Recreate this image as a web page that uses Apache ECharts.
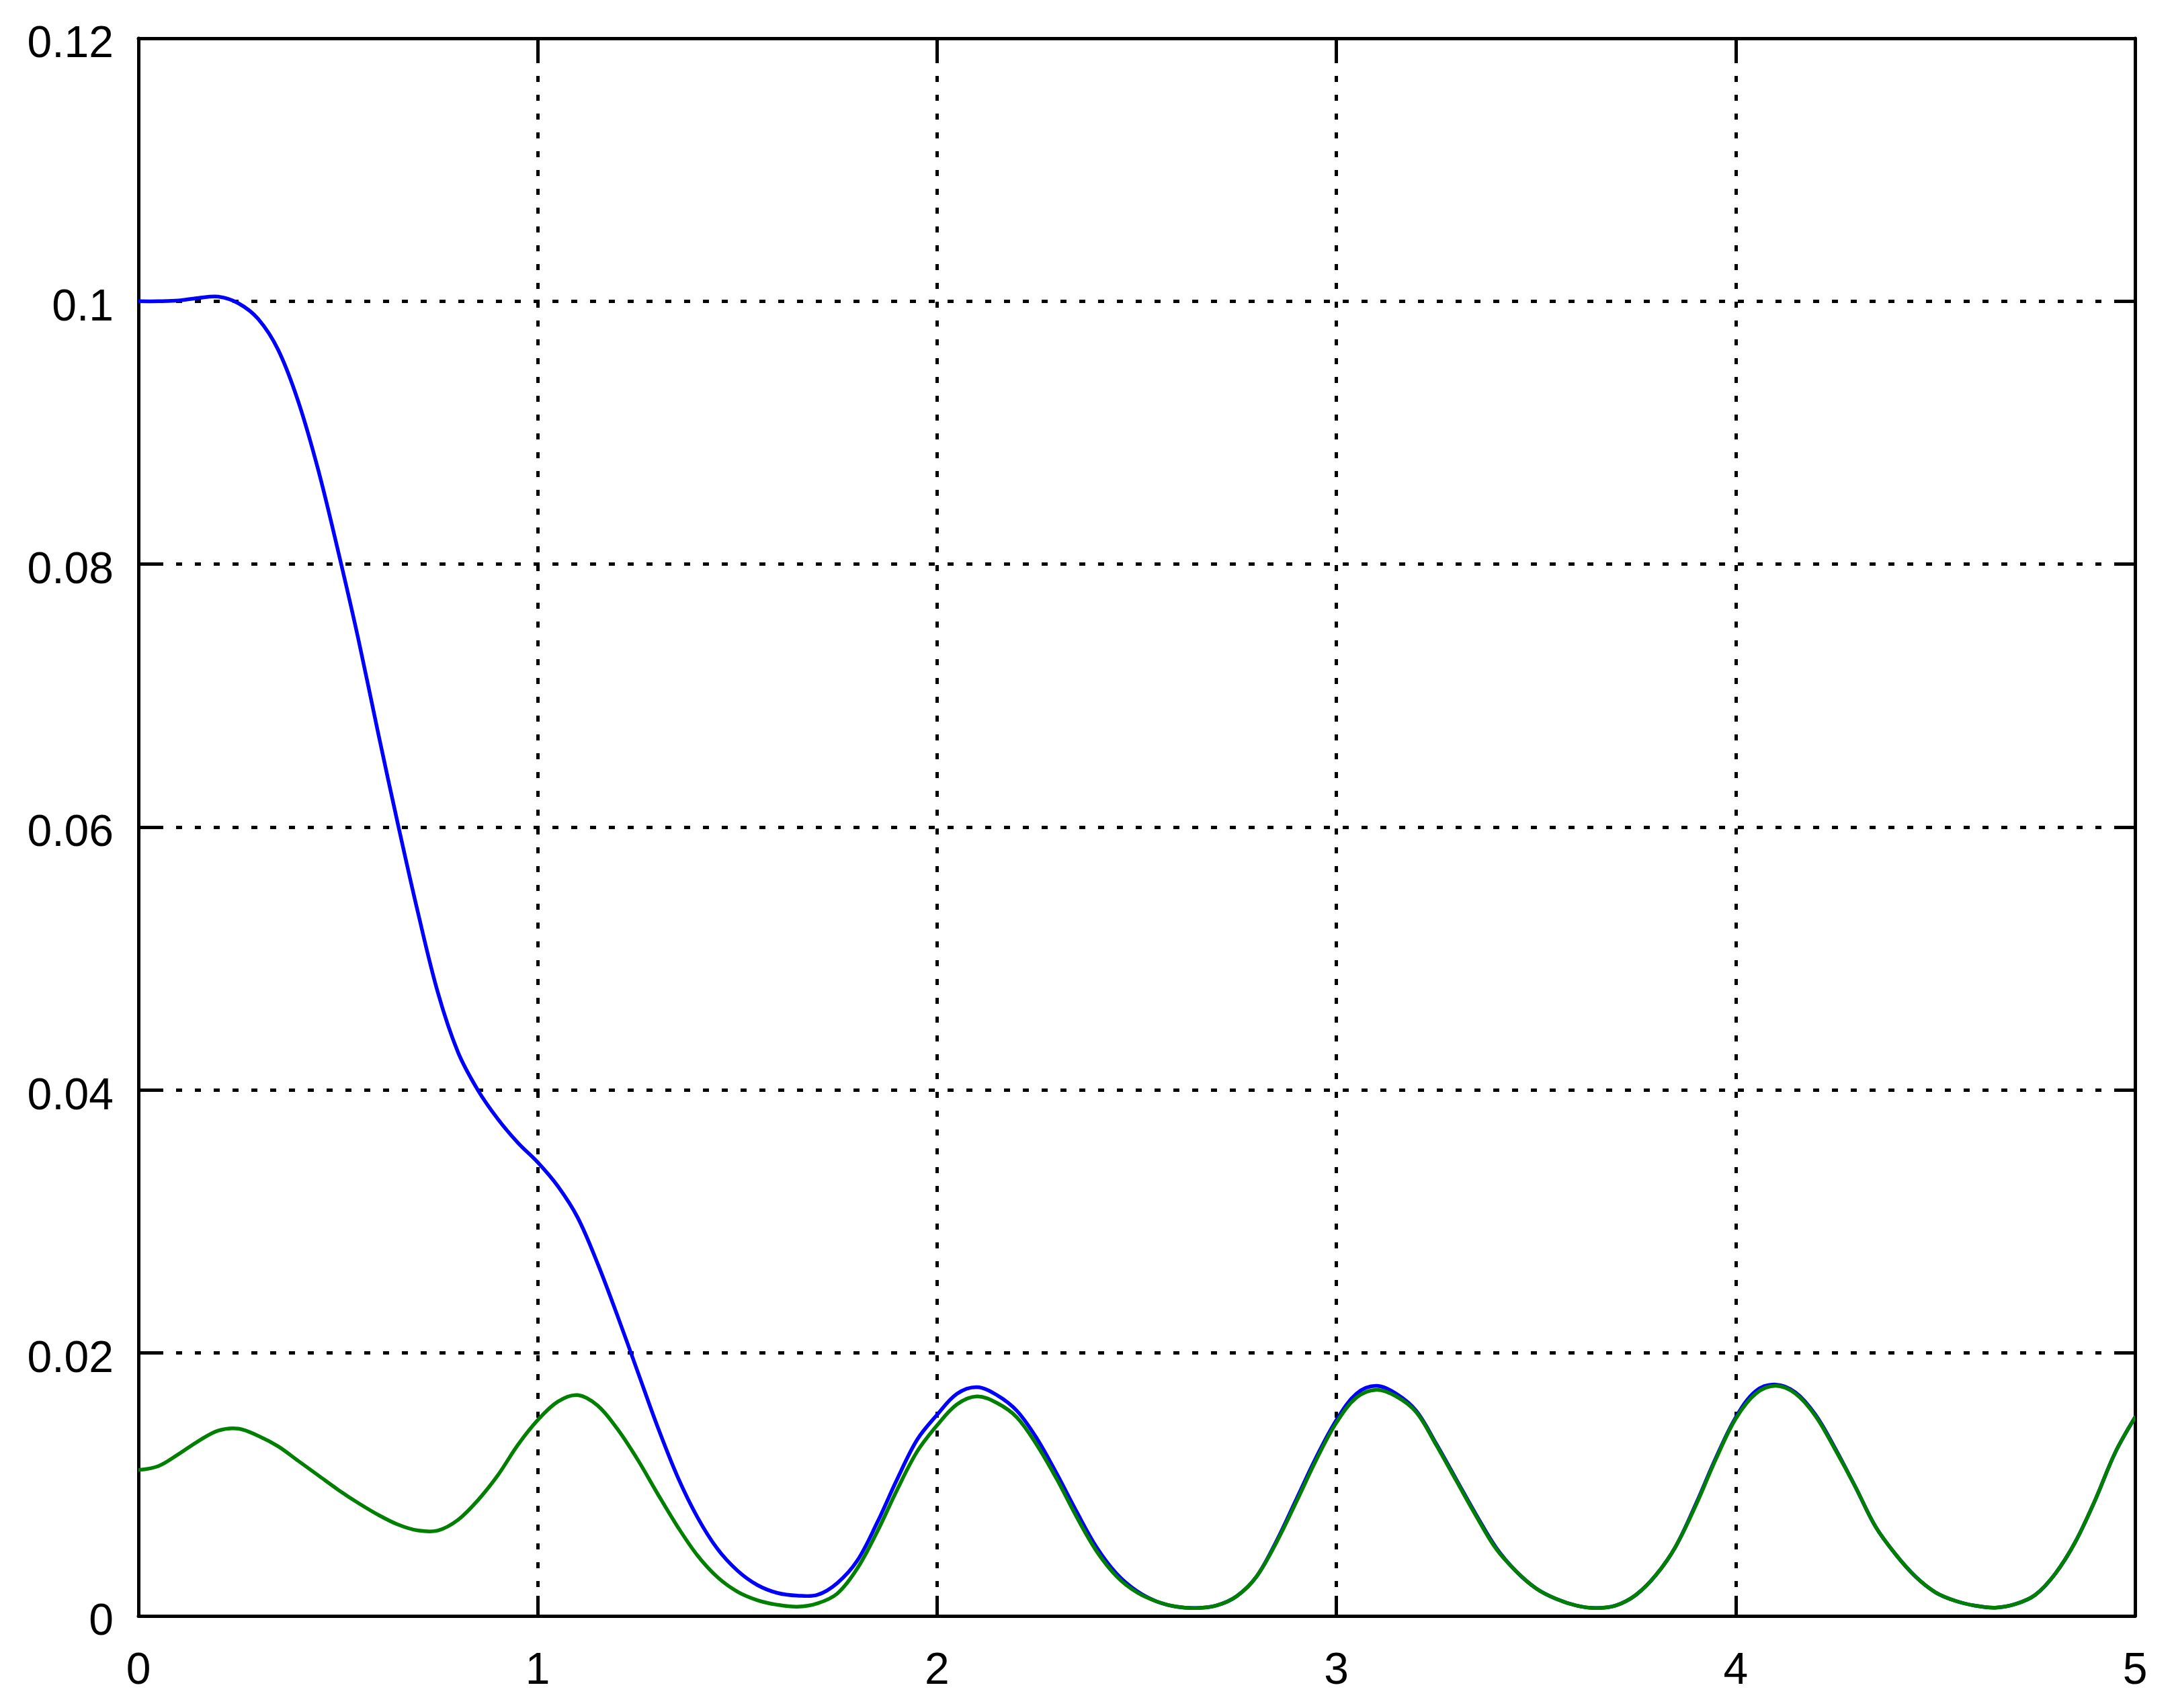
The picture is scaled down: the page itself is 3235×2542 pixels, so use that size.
<!DOCTYPE html>
<html>
<head>
<meta charset="utf-8">
<script src="https://cdn.jsdelivr.net/npm/echarts@6/dist/echarts.min.js"></script>
<style>
html,body{margin:0;padding:0;background:#fff;}
#chart{width:3235px;height:2542px;}
</style>
</head>
<body>
<div id="chart"></div>
<script>
const xValues = [
0.00,0.05,0.10,0.15,0.20,0.25,0.30,0.35,0.40,0.45,
0.50,0.55,0.60,0.65,0.70,0.75,0.80,0.85,0.90,0.95,
1.00,1.05,1.10,1.15,1.20,1.25,1.30,1.35,1.40,1.45,
1.50,1.55,1.60,1.65,1.70,1.75,1.80,1.85,1.90,1.95,
2.00,2.05,2.10,2.15,2.20,2.25,2.30,2.35,2.40,2.45,
2.50,2.55,2.60,2.65,2.70,2.75,2.80,2.85,2.90,2.95,
3.00,3.05,3.10,3.15,3.20,3.25,3.30,3.35,3.40,3.45,
3.50,3.55,3.60,3.65,3.70,3.75,3.80,3.85,3.90,3.95,
4.00,4.05,4.10,4.15,4.20,4.25,4.30,4.35,4.40,4.45,
4.50,4.55,4.60,4.65,4.70,4.75,4.80,4.85,4.90,4.95,
5.00];

const blueValues = [
0.1000,0.1000,0.10005,0.10025,0.10035,0.09985,0.09865,0.0963,0.0924,0.0872,
0.0810,0.0744,0.0672,0.0602,0.0535,0.0474,0.0429,0.0400,0.0378,0.0360,
0.0345,0.0327,0.0303,0.0268,0.0228,0.0186,0.0144,0.0106,0.0075,0.0051,
0.00345,0.00235,0.00175,0.00155,0.0016,0.0025,0.0042,0.0071,0.0104,0.0134,
0.0153,0.0169,0.0174,0.0168,0.0156,0.0135,0.0108,0.0079,0.0052,0.0032,
0.0019,0.0011,0.0007,0.0006,0.0008,0.0015,0.0030,0.0057,0.0089,0.0121,
0.0149,0.0169,0.0175,0.0169,0.0156,0.0131,0.0104,0.0077,0.0052,0.0034,
0.0021,0.0013,0.0008,0.0006,0.0008,0.0016,0.0031,0.0053,0.0085,0.0120,
0.0151,0.0171,0.0176,0.0170,0.0153,0.0127,0.0098,0.0068,0.0047,0.0030,
0.0018,0.00115,0.00078,0.00063,0.0009,0.0016,0.0032,0.0056,0.0088,0.0124,
0.0151];

const greenValues = [
0.0111,0.0114,0.0123,0.0133,0.0141,0.01425,0.0137,0.0129,0.0118,0.0107,
0.0096,0.0086,0.0077,0.00695,0.0065,0.0065,0.0073,0.0088,0.0107,0.0130,
0.0149,0.0163,0.0168,0.0160,0.0142,0.0119,0.0093,0.0068,0.0046,0.00295,
0.00185,0.0012,0.00085,0.0007,0.00095,0.0017,0.0036,0.0064,0.0096,0.0125,
0.0145,0.0161,0.0167,0.0162,0.0151,0.0130,0.0104,0.0075,0.0049,0.0030,
0.0018,0.0011,0.0007,0.0006,0.0008,0.0015,0.0030,0.0056,0.0087,0.0119,
0.0147,0.0166,0.0172,0.0167,0.0155,0.0130,0.0103,0.0076,0.0051,0.0034,
0.0021,0.0013,0.0008,0.0006,0.0008,0.0016,0.0031,0.0053,0.0084,0.0119,
0.0150,0.0169,0.0175,0.0169,0.0152,0.0126,0.0098,0.0068,0.0047,0.0030,
0.0018,0.00115,0.00078,0.00063,0.0009,0.0016,0.0032,0.0056,0.0088,0.0124,
0.0151];

const xTicks = [0,1,2,3,4,5];
const yTicks = [0,0.02,0.04,0.06,0.08,0.1,0.12];

const blueData = xValues.map((x,i)=>[x, blueValues[i]]);
const greenData = xValues.map((x,i)=>[x, greenValues[i]]);

const FONT = 'Arial, "Liberation Sans", sans-serif';
const black = '#000';
const axisLine = {show:true, onZero:false, lineStyle:{color:black, width:5}};
const tick = {show:true, inside:true, length:30, lineStyle:{color:black, width:5}};
const gridLine = {show:true, lineStyle:{color:black, width:5, type:[9,19]}};

// Smooth curve through every data point, positioned by the axes' scales.
function curveRenderer(data, color) {
  return function (params, api) {
    if (params.dataIndex !== 0) return null;
    const pts = data.map(d => api.coord(d));
    return {
      type: 'polyline',
      silent: true,
      shape: { points: pts, smooth: 0.35 },
      style: { stroke: color, lineWidth: 5.5, fill: null, lineJoin: 'round', lineCap: 'round' }
    };
  };
}

const chart = echarts.init(document.getElementById('chart'), null, {renderer:'canvas'});
chart.setOption({
  backgroundColor:'#fff',
  animation:false,
  grid:{left:206, right:58, top:57, bottom:137, containLabel:false},
  xAxis:[
    {type:'value', min:0, max:5, interval:1, position:'bottom',
     axisLine:axisLine, axisTick:tick, splitLine:gridLine,
     axisLabel:{color:black, fontSize:66, fontFamily:FONT, margin:50,
       formatter:v=>String(v)}},
    {type:'value', min:0, max:5, interval:1, position:'top',
     axisLine:axisLine, axisTick:tick, splitLine:{show:false}, axisLabel:{show:false}}
  ],
  yAxis:[
    {type:'value', min:0, max:0.12, interval:0.02, position:'left',
     axisLine:axisLine, axisTick:tick, splitLine:gridLine,
     axisLabel:{color:black, fontSize:66, fontFamily:FONT, margin:37,
       verticalAlign:'top', lineHeight:20,
       formatter:v=>String(+v.toFixed(2))}},
    {type:'value', min:0, max:0.12, interval:0.02, position:'right',
     axisLine:axisLine, axisTick:tick, splitLine:{show:false}, axisLabel:{show:false}}
  ],
  series:[
    {type:'custom', name:'blue', data:blueData, xAxisIndex:0, yAxisIndex:0,
     renderItem: curveRenderer(blueData, '#0000ff'), z:3, clip:true},
    {type:'custom', name:'green', data:greenData, xAxisIndex:0, yAxisIndex:0,
     renderItem: curveRenderer(greenData, '#007f00'), z:4, clip:true}
  ]
});
</script>
</body>
</html>
